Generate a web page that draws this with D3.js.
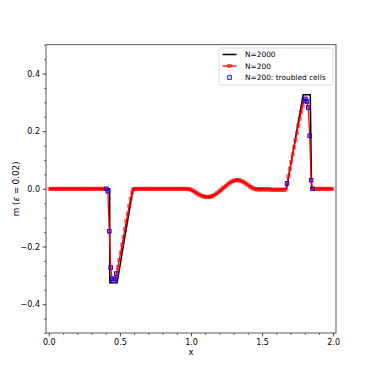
<!DOCTYPE html>
<html>
<head>
<meta charset="utf-8">
<script src="https://cdn.jsdelivr.net/npm/d3@7"></script>
<style>
    body { margin: 0; background: #fff; }
    text { font-family: "DejaVu Sans", sans-serif; fill: #000; }
</style>
</head>
<body>
<div id="graph"></div>
<script>
/*
    Data
*/
// N=2000 reference solution (vertices of the polyline)
var fineX = [0, 0.428, 0.429, 0.48, 0.592, 0.98, 1.03, 1.08, 1.13, 1.18, 1.225,
             1.27, 1.33, 1.38, 1.42, 1.46, 1.6, 1.672, 1.789, 1.839, 1.848, 2.0]
var fineM = [0, 0, -0.326, -0.326, 0, 0, -0.012, -0.025, -0.029, -0.018, 0,
             0.021, 0.031, 0.021, 0.008, 0, -0.002, 0, 0.326, 0.326, 0, 0]

// N=200 cell values (cell centres 0.005, 0.015, ... 1.995)
var coarseM = [
    0, 0, 0, 0, 0, 0, 0, 0, 0, 0,
    0, 0, 0, 0, 0, 0, 0, 0, 0, 0,
    0, 0, 0, 0, 0, 0, 0, 0, 0, 0,
    0, 0, 0, 0, 0, 0, 0, 0, 0, 0,
    0, -0.008, -0.147, -0.273, -0.312, -0.318, -0.312, -0.294, -0.272, -0.247,
    -0.221, -0.194, -0.167, -0.140, -0.113, -0.086, -0.059, -0.034, -0.013, -0.002,
    0, 0, 0, 0, 0, 0, 0, 0, 0, 0,
    0, 0, 0, 0, 0, 0, 0, 0, 0, 0,
    0, 0, 0, 0, 0, 0, 0, 0, 0, 0,
    0, 0, 0, 0, 0, 0, 0, 0, -0.001, -0.002,
    -0.004, -0.007, -0.010, -0.013, -0.016, -0.019, -0.022, -0.024, -0.026, -0.027,
    -0.028, -0.028, -0.028, -0.027, -0.026, -0.024, -0.021, -0.018, -0.014, -0.010,
    -0.006, -0.002, 0.002, 0.006, 0.010, 0.014, 0.018, 0.022, 0.025, 0.027,
    0.029, 0.030, 0.030, 0.030, 0.029, 0.027, 0.025, 0.022, 0.019, 0.015,
    0.012, 0.008, 0.005, 0.002, 0, -0.001, -0.002, -0.002, -0.002, -0.002,
    -0.002, -0.002, -0.002, -0.002, -0.002, -0.002, -0.003, -0.003, -0.003, -0.003,
    -0.003, -0.003, -0.003, -0.003, -0.003, -0.003, -0.003, 0.019, 0.044, 0.069,
    0.094, 0.119, 0.144, 0.169, 0.194, 0.219, 0.243, 0.266, 0.286, 0.305,
    0.312, 0.303, 0.282, 0.184, 0.030, 0, 0, 0, 0, 0,
    0, 0, 0, 0, 0, 0, 0, 0, 0, 0
]

// troubled cells (cell index into coarseM)
var troubled = [40, 41, 42, 43, 44, 45, 46, 47,
                167, 179, 180, 181, 182, 183, 184, 185]

var xTicks = [0.0, 0.5, 1.0, 1.5, 2.0]
var yTicks = [-0.4, -0.2, 0.0, 0.2, 0.4]

/*
    Dimensions
*/
var W = 374, H = 374
var margin = {top: 44.7, right: 38, bottom: 41, left: 46},
    width = W - margin.left - margin.right,
    height = H - margin.top - margin.bottom

var svg = d3.select("#graph").append("svg")
    .attr("width", W)
    .attr("height", H)
  .append("g")
    .attr("transform", "translate(" + margin.left + "," + margin.top + ")")

var x = d3.scaleLinear().domain([-0.02, 2.02]).range([0, width]),
    y = d3.scaleLinear().domain([-0.5, 0.5]).range([height, 0])

var fine = fineX.map(function (d, i) { return {x: d, m: fineM[i]} })
var coarse = coarseM.map(function (d, i) { return {x: (i + 0.5) * 0.01, m: d} })

/*
    Axes
*/
var fmt = function (d) { return d3.format(".1f")(d).replace("-", "\u2212") }

var xMinor = d3.range(0, 2.001, 0.1),
    yMinor = d3.range(-0.5, 0.501, 0.05)

svg.append("g")
    .attr("class", "x minor")
    .attr("transform", "translate(0," + height + ")")
    .call(d3.axisBottom(x).tickValues(xMinor).tickSize(2).tickFormat(""))

svg.append("g")
    .attr("class", "y minor")
    .call(d3.axisLeft(y).tickValues(yMinor).tickSize(2).tickFormat(""))

svg.append("g")
    .attr("class", "x axis")
    .attr("transform", "translate(0," + height + ")")
    .call(d3.axisBottom(x).tickValues(xTicks).tickSize(3.5).tickPadding(2.5).tickFormat(fmt))

svg.append("g")
    .attr("class", "y axis")
    .call(d3.axisLeft(y).tickValues(yTicks).tickSize(3.5).tickPadding(2.5).tickFormat(fmt))

svg.selectAll(".domain").remove()
svg.selectAll(".tick line").attr("stroke", "#333").attr("stroke-width", 0.7)
svg.selectAll(".tick text").style("font-size", "8px").style("font-family", "DejaVu Sans")

// frame
svg.append("rect")
    .attr("width", width)
    .attr("height", height)
    .attr("fill", "none")
    .attr("stroke", "#333")
    .attr("stroke-width", 0.8)

// labels
svg.append("text")
    .attr("x", width / 2)
    .attr("y", height + 22.5)
    .attr("text-anchor", "middle")
    .style("font-size", "8.5px")
    .text("x")

var yl = svg.append("text")
    .attr("transform", "translate(" + (-27) + "," + (height / 2) + ") rotate(-90)")
    .attr("text-anchor", "middle")
    .style("font-size", "8.8px")
yl.append("tspan").text("m (")
yl.append("tspan").style("font-style", "italic").text("\u03b5")
yl.append("tspan").attr("dx", 2.5).text("=")
yl.append("tspan").attr("dx", 2.5).text("0.02)")

/*
    Series
*/
var clip = svg.append("clipPath").attr("id", "clip")
    .append("rect").attr("width", width).attr("height", height)

var plot = svg.append("g").attr("clip-path", "url(#clip)")

var line = d3.line()
    .x(function (d) { return x(d.x) })
    .y(function (d) { return y(d.m) })

plot.append("path")
    .attr("d", line(fine))
    .attr("fill", "none")
    .attr("stroke", "#000")
    .attr("stroke-width", 1.5)

plot.append("path")
    .attr("d", line(coarse))
    .attr("fill", "none")
    .attr("stroke", "#ff0000")
    .attr("stroke-width", 1.3)

var ms = 3.4
plot.selectAll(".sq")
    .data(coarse)
  .enter().append("rect")
    .attr("class", "sq")
    .attr("x", function (d) { return x(d.x) - ms / 2 })
    .attr("y", function (d) { return y(d.m) - ms / 2 })
    .attr("width", ms)
    .attr("height", ms)
    .attr("fill", "#ff0000")
    .attr("fill-opacity", 0.45)
    .attr("stroke", "#ff0000")
    .attr("stroke-opacity", 0.6)
    .attr("stroke-width", 0.5)

var ts = 3.6
plot.selectAll(".tc")
    .data(troubled.map(function (i) { return coarse[i] }))
  .enter().append("rect")
    .attr("class", "tc")
    .attr("x", function (d) { return x(d.x) - ts / 2 })
    .attr("y", function (d) { return y(d.m) - ts / 2 })
    .attr("width", ts)
    .attr("height", ts)
    .attr("fill", "none")
    .attr("stroke", "#0000ff")
    .attr("stroke-width", 0.9)

/*
    Legend
*/
var lg = svg.append("g")
    .attr("transform", "translate(" + (219 - margin.left) + "," + (48 - margin.top) + ")")

lg.append("rect")
    .attr("width", 114)
    .attr("height", 37)
    .attr("rx", 2)
    .attr("fill", "#fff")
    .attr("fill-opacity", 0.8)
    .attr("stroke", "#d0d0d0")
    .attr("stroke-width", 0.8)

var rows = [6.5, 18, 29.5]

lg.append("line")
    .attr("x1", 3.5).attr("x2", 17.5).attr("y1", rows[0]).attr("y2", rows[0])
    .attr("stroke", "#000").attr("stroke-width", 1.5)
lg.append("line")
    .attr("x1", 3.5).attr("x2", 17.5).attr("y1", rows[1]).attr("y2", rows[1])
    .attr("stroke", "#ff0000").attr("stroke-width", 1.3)
lg.append("rect")
    .attr("x", 10.5 - ms / 2).attr("y", rows[1] - ms / 2)
    .attr("width", ms).attr("height", ms)
    .attr("fill", "#ff0000").attr("fill-opacity", 0.45)
    .attr("stroke", "#ff0000").attr("stroke-width", 0.5)
lg.append("rect")
    .attr("x", 10.5 - ts / 2).attr("y", rows[2] - ts / 2)
    .attr("width", ts).attr("height", ts)
    .attr("fill", "none").attr("stroke", "#0000ff").attr("stroke-width", 0.9)

var labels = ["N=2000", "N=200", "N=200: troubled cells"]
lg.selectAll(".lt")
    .data(labels)
  .enter().append("text")
    .attr("class", "lt")
    .attr("x", 26)
    .attr("y", function (d, i) { return rows[i] + 2.7 })
    .style("font-size", "7.4px")
    .text(function (d) { return d })
</script>
</body>
</html>
